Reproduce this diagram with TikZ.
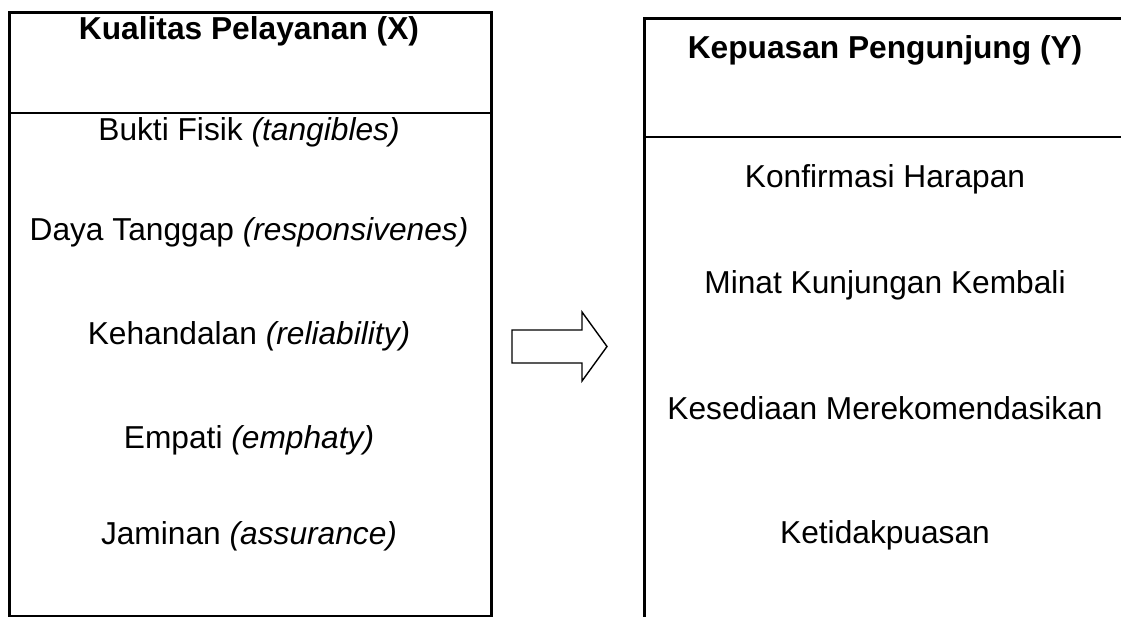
\documentclass[tikz,border=0pt]{standalone}
\usepackage{fontspec}
\setmainfont{Liberation Sans}
\usetikzlibrary{positioning,calc}

\begin{document}
\begin{tikzpicture}[
  x=1pt, y=-1pt,
  frame/.style={draw, line width=2.6pt, inner sep=0pt},
  item/.style={anchor=base, inner sep=0pt, font=\fontsize{31.7}{38}\selectfont},
  head/.style={item, font=\fontsize{31.7}{38}\selectfont\bfseries},
  blockarrow/.style={draw, line width=1.4pt, line join=miter}
]
\useasboundingbox (0,0) rectangle (1121,616);
\clip (0,0) rectangle (1121,616);

% the two boxes
\node[frame, anchor=north west, minimum width=482pt, minimum height=604pt] (xbox) at (8,11) {};
\node[frame, anchor=north west, minimum width=484pt, minimum height=630pt] (ybox) at (643,17) {};
\coordinate (xdiv) at (0,113);
\coordinate (ydiv) at (0,137);
\draw[line width=2.6pt] (xbox.west |- xdiv) -- (xbox.east |- xdiv);
\draw[line width=2.6pt] (ybox.west |- ydiv) -- (ybox.east |- ydiv);

% headers
\node[head] (xhead) at (249,39) {Kualitas Pelayanan (X)};
\node[head] (yhead) at (885,58) {Kepuasan Pengunjung (Y)};

% indicators
\foreach \t/\y [count=\i] in {Bukti Fisik \textit{(tangibles)}/140,
    Daya Tanggap \textit{(responsivenes)}/240,
    Kehandalan \textit{(reliability)}/344,
    Empati \textit{(emphaty)}/448,
    Jaminan \textit{(assurance)}/544}
  \node[item] (x\i) at (249,\y) {\t};
\foreach \t/\y [count=\i] in {Konfirmasi Harapan/187, Minat Kunjungan Kembali/293,
    Kesediaan Merekomendasikan/419, Ketidakpuasan/543}
  \node[item] (y\i) at (885,\y) {\t};

% block arrow
\coordinate (tail) at (512,346.5);
\draw[blockarrow] (tail) ++(0,-16.5) -- ++(70,0) -- ++(0,-18) -- ++(25,34.5)
  -- ++(-25,34.5) -- ++(0,-18) -- ++(-70,0) -- cycle;
\end{tikzpicture}
\end{document}
